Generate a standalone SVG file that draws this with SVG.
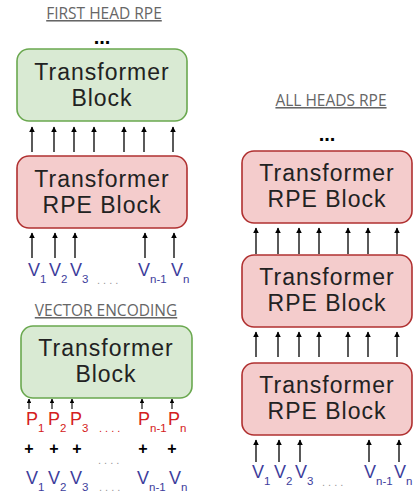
<svg xmlns="http://www.w3.org/2000/svg" width="414" height="494" viewBox="0 0 414 494">
<defs>
<marker id="ah" viewBox="0 0 10 10" refX="9" refY="5" markerWidth="4.5" markerHeight="4.5" orient="auto" markerUnits="strokeWidth">
<path d="M0,0 L10,5 L0,10 z" fill="#000"/>
</marker>
<marker id="ahs" viewBox="0 0 10 10" refX="9" refY="5" markerWidth="4" markerHeight="4" orient="auto" markerUnits="strokeWidth">
<path d="M0,0 L10,5 L0,10 z" fill="#000"/>
</marker>
</defs>
<style>
.green{fill:#d9ead3;stroke:#6aa84f;stroke-width:1.6}
.red{fill:#f4cccc;stroke:#b03030;stroke-width:1.6}
.bt{font-family:"Liberation Sans",Arial,sans-serif;font-size:23px;letter-spacing:1px;fill:#222;text-anchor:middle}
.title{font-family:"Open Sans","Noto Sans",sans-serif;font-size:15.5px;fill:#666;text-anchor:middle;text-decoration:underline}
.dots{font-family:"Liberation Sans",sans-serif;font-size:20px;font-weight:bold;fill:#000;text-anchor:middle}
.v{font-family:"Liberation Sans",sans-serif;font-size:18px;fill:#3d3d9c}
.p{font-family:"Liberation Sans",sans-serif;font-size:18px;fill:#d42020}
.sub{font-size:11.5px}
.plus{font-family:"Liberation Sans",sans-serif;font-size:16px;font-weight:bold;fill:#000;text-anchor:middle}
.sd{font-family:"Liberation Sans",sans-serif;font-size:11px;fill:#999}
.sdr{font-family:"Liberation Sans",sans-serif;font-size:11px;fill:#d42020}
.ar{stroke:#000;stroke-width:1.3;fill:none;marker-end:url(#ah)}
.as{stroke:#000;stroke-width:1.1;fill:none;marker-end:url(#ahs)}
</style>

<g id="title-first-head">
<text class="title" x="104" y="19">FIRST HEAD RPE</text>
<text class="dots" x="102" y="44">...</text>
</g>
<g id="left-transformer-block">
<rect class="green" x="17" y="49" width="170" height="72" rx="12"/>
<text class="bt"><tspan x="102" y="80">Transformer</tspan><tspan x="102" y="106">Block</tspan></text>
</g>
<g id="left-rpe-block">
<rect class="red" x="17" y="156" width="170" height="72" rx="12"/>
<text class="bt"><tspan x="102" y="187">Transformer</tspan><tspan x="102" y="213">RPE Block</tspan></text>
</g>
<g id="left-v-inputs">
<text class="v" x="28" y="276">V<tspan class="sub" dy="7">1</tspan></text>
<text class="v" x="49" y="276">V<tspan class="sub" dy="7">2</tspan></text>
<text class="v" x="70" y="276">V<tspan class="sub" dy="7">3</tspan></text>
<text class="sd" x="97" y="284">.   .   .   .</text>
<text class="v" x="138" y="276">V<tspan class="sub" dy="7">n-1</tspan></text>
<text class="v" x="171" y="276">V<tspan class="sub" dy="7">n</tspan></text>
</g>

<g id="title-vector-encoding">
<text class="title" x="106" y="316">VECTOR ENCODING</text>
</g>
<g id="ve-transformer-block">
<rect class="green" x="21" y="326" width="171" height="72" rx="12"/>
<text class="bt"><tspan x="106" y="356">Transformer</tspan><tspan x="106" y="382">Block</tspan></text>
</g>
<g id="ve-p-inputs">
<text class="p" x="26" y="425">P<tspan class="sub" dy="7">1</tspan></text>
<text class="p" x="48" y="425">P<tspan class="sub" dy="7">2</tspan></text>
<text class="p" x="70" y="425">P<tspan class="sub" dy="7">3</tspan></text>
<text class="sdr" x="99" y="432">.   .   .   .</text>
<text class="p" x="138" y="425">P<tspan class="sub" dy="7">n-1</tspan></text>
<text class="p" x="168" y="425">P<tspan class="sub" dy="7">n</tspan></text>
</g>
<g id="ve-plus">
<text class="plus" x="29" y="454">+</text>
<text class="plus" x="54" y="454">+</text>
<text class="plus" x="77" y="454">+</text>
<text class="sd" x="98" y="464">.   .   .   .</text>
<text class="plus" x="143" y="454">+</text>
<text class="plus" x="172" y="454">+</text>
</g>
<g id="ve-v-inputs">
<text class="v" x="26" y="484">V<tspan class="sub" dy="7">1</tspan></text>
<text class="v" x="48" y="484">V<tspan class="sub" dy="7">2</tspan></text>
<text class="v" x="70" y="484">V<tspan class="sub" dy="7">3</tspan></text>
<text class="sd" x="99" y="491">.   .   .   .</text>
<text class="v" x="137" y="484">V<tspan class="sub" dy="7">n-1</tspan></text>
<text class="v" x="169" y="484">V<tspan class="sub" dy="7">n</tspan></text>
</g>

<g id="title-all-heads">
<text class="title" x="331" y="106">ALL HEADS RPE</text>
<text class="dots" x="327" y="141">...</text>
</g>
<g id="right-rpe-block-3">
<rect class="red" x="242" y="151" width="170" height="72" rx="12"/>
<text class="bt"><tspan x="327" y="181">Transformer</tspan><tspan x="327" y="207">RPE Block</tspan></text>
</g>
<g id="right-rpe-block-2">
<rect class="red" x="242" y="255" width="170" height="72" rx="12"/>
<text class="bt"><tspan x="327" y="285">Transformer</tspan><tspan x="327" y="311">RPE Block</tspan></text>
</g>
<g id="right-rpe-block-1">
<rect class="red" x="242" y="363" width="170" height="72" rx="12"/>
<text class="bt"><tspan x="327" y="393">Transformer</tspan><tspan x="327" y="419">RPE Block</tspan></text>
</g>
<g id="right-v-inputs">
<text class="v" x="252" y="478">V<tspan class="sub" dy="7">1</tspan></text>
<text class="v" x="274" y="478">V<tspan class="sub" dy="7">2</tspan></text>
<text class="v" x="295" y="478">V<tspan class="sub" dy="7">3</tspan></text>
<text class="sd" x="322" y="486">.   .   .   .</text>
<text class="v" x="364" y="478">V<tspan class="sub" dy="7">n-1</tspan></text>
<text class="v" x="394" y="478">V<tspan class="sub" dy="7">n</tspan></text>
</g>

<g id="connectors">
<line class="ar" x1="32" y1="152" x2="32" y2="127"/>
<line class="ar" x1="54" y1="152" x2="54" y2="127"/>
<line class="ar" x1="74" y1="152" x2="74" y2="127"/>
<line class="ar" x1="94" y1="152" x2="94" y2="127"/>
<line class="ar" x1="124" y1="152" x2="124" y2="127"/>
<line class="ar" x1="144" y1="152" x2="144" y2="127"/>
<line class="ar" x1="173" y1="152" x2="173" y2="127"/>
<line class="ar" x1="32" y1="258" x2="32" y2="233"/>
<line class="ar" x1="55" y1="258" x2="55" y2="233"/>
<line class="ar" x1="75" y1="258" x2="75" y2="233"/>
<line class="ar" x1="145" y1="258" x2="145" y2="233"/>
<line class="ar" x1="174" y1="258" x2="174" y2="233"/>
<line class="as" x1="29" y1="409" x2="29" y2="399"/>
<line class="as" x1="52" y1="409" x2="52" y2="399"/>
<line class="as" x1="72" y1="409" x2="72" y2="399"/>
<line class="as" x1="142" y1="409" x2="142" y2="399"/>
<line class="as" x1="172" y1="409" x2="172" y2="399"/>
<line class="ar" x1="256" y1="254" x2="256" y2="228"/>
<line class="ar" x1="278" y1="254" x2="278" y2="228"/>
<line class="ar" x1="299" y1="254" x2="299" y2="228"/>
<line class="ar" x1="319" y1="254" x2="319" y2="228"/>
<line class="ar" x1="348" y1="254" x2="348" y2="228"/>
<line class="ar" x1="368" y1="254" x2="368" y2="228"/>
<line class="ar" x1="397" y1="254" x2="397" y2="228"/>
<line class="ar" x1="256" y1="357" x2="256" y2="332"/>
<line class="ar" x1="278" y1="357" x2="278" y2="332"/>
<line class="ar" x1="299" y1="357" x2="299" y2="332"/>
<line class="ar" x1="319" y1="357" x2="319" y2="332"/>
<line class="ar" x1="348" y1="357" x2="348" y2="332"/>
<line class="ar" x1="368" y1="357" x2="368" y2="332"/>
<line class="ar" x1="397" y1="357" x2="397" y2="332"/>
<line class="ar" x1="256" y1="462" x2="256" y2="440"/>
<line class="ar" x1="279" y1="462" x2="279" y2="440"/>
<line class="ar" x1="300" y1="462" x2="300" y2="440"/>
<line class="ar" x1="369" y1="462" x2="369" y2="440"/>
<line class="ar" x1="399" y1="462" x2="399" y2="440"/>
</g>
</svg>
